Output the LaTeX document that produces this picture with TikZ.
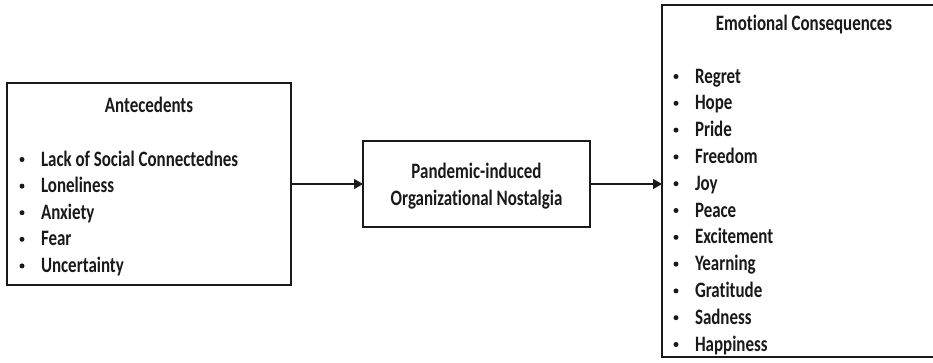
\documentclass[tikz,border=0pt]{standalone}
\usepackage{fontspec}
\setmainfont{Carlito}[FakeStretch=0.77,Ligatures={NoCommon}]
\usetikzlibrary{arrows.meta}
\tikzset{
  box/.style={draw=black!90, line width=1.8pt, inner sep=0pt, outer sep=0pt},
  txt/.style={inner sep=0pt, outer sep=0pt, font=\fontsize{22}{26}\selectfont\bfseries, text=black!90},
  item/.style={txt, anchor=base west},
  bul/.style={circle, fill=black!90, inner sep=0pt, outer sep=0pt, minimum size=5pt},
  arr/.style={draw=black!90, line width=1.3pt, -{Triangle[length=9pt,width=10pt]}}
}
\begin{document}
\begin{tikzpicture}[x=1pt,y=-1pt]
\useasboundingbox (0,0) rectangle (933,362);
% boxes
\node[box, minimum width=284pt, minimum height=202pt] (ante) at (149,184) {};
\node[box, minimum width=227pt, minimum height=86pt] (mid) at (476.5,184) {};
\node[box, minimum width=284pt, minimum height=352pt] (cons) at (804,181) {};
% connectors
\draw[arr] (ante.east) -- (mid.west);
\draw[arr] (mid.east) -- (mid.east -| cons.west);
% antecedents
\node[txt, anchor=base] (antet) at (149,112) {Antecedents};
\foreach \t [count=\i] in {Lack of Social Connectednes,Loneliness,Anxiety,Fear,Uncertainty}{
  \node[bul] (ab\i) at (22,{166+(\i-1)*26.6-6.5}) {};
  \node[item] (ai\i) at (41,{166+(\i-1)*26.6}) {\t};
}
% middle
\node[txt, anchor=base] (mid1) at (476.5,178) {Pandemic-induced};
\node[txt, anchor=base] (mid2) at (476.5,205) {Organizational Nostalgia};
% consequences
\node[txt, anchor=base] (const) at (804,30) {Emotional Consequences};
\foreach \t [count=\i] in {Regret,Hope,Pride,Freedom,Joy,Peace,Excitement,Yearning,Gratitude,Sadness,Happiness}{
  \node[bul] (cb\i) at (676,{83+(\i-1)*26.8-6.5}) {};
  \node[item] (ci\i) at (695,{83+(\i-1)*26.8}) {\t};
}
\end{tikzpicture}
\end{document}
